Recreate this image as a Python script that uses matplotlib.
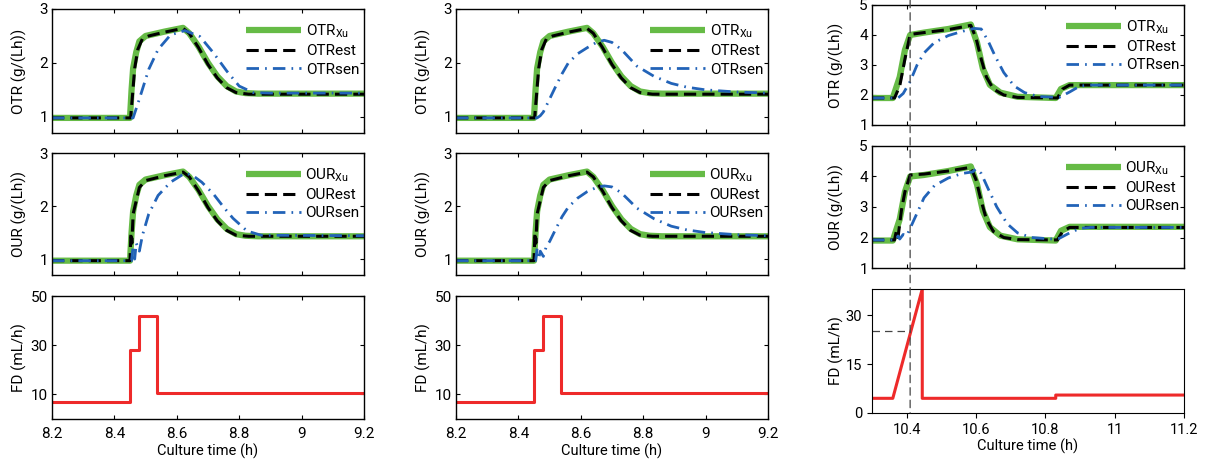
import numpy as np
import matplotlib
matplotlib.use("Agg")
import matplotlib.pyplot as plt
from matplotlib.patches import ConnectionPatch

plt.rcParams['font.family'] = ['Roboto', 'DejaVu Sans']
plt.rcParams['mathtext.fontset'] = 'custom'
plt.rcParams['mathtext.rm'] = 'Roboto'
plt.rcParams['font.size'] = 10.5

# ---- data ----
# columns 1 and 2 (8.2 - 9.2 h)
t_xu = [8.2, 8.45, 8.455, 8.46, 8.47, 8.48, 8.50, 8.56, 8.62, 8.64, 8.67, 8.70, 8.73, 8.76, 8.79, 8.82, 8.86, 9.2]
otr_xu = [0.98, 0.98, 1.5, 1.9, 2.2, 2.4, 2.5, 2.58, 2.65, 2.55, 2.3, 2.0, 1.75, 1.57, 1.47, 1.44, 1.43, 1.43]
our_xu = [0.97, 0.97, 1.5, 1.9, 2.2, 2.4, 2.5, 2.58, 2.65, 2.55, 2.3, 2.0, 1.75, 1.57, 1.47, 1.44, 1.43, 1.43]

t_est = [8.2, 8.452, 8.458, 8.465, 8.475, 8.49, 8.51, 8.56, 8.62, 8.64, 8.67, 8.70, 8.73, 8.76, 8.79, 8.83, 9.2]
otr_est = [0.98, 0.98, 1.4, 1.9, 2.25, 2.45, 2.5, 2.57, 2.64, 2.55, 2.28, 1.97, 1.72, 1.54, 1.45, 1.42, 1.42]
t_est_our = [8.2, 8.45, 8.453, 8.456, 8.46, 8.47, 8.48, 8.50, 8.56, 8.62, 8.64, 8.67, 8.70, 8.73, 8.76, 8.79, 8.83, 9.2]
our_est = [0.97, 0.97, 1.5, 1.3, 1.85, 2.1, 2.35, 2.48, 2.57, 2.64, 2.55, 2.28, 1.97, 1.72, 1.54, 1.45, 1.43, 1.43]

t_sen1 = [8.2, 8.46, 8.48, 8.51, 8.54, 8.58, 8.626, 8.674, 8.717, 8.76, 8.80, 8.845, 8.9, 9.2]
otr_sen1 = [0.98, 0.98, 1.33, 1.88, 2.25, 2.52, 2.6, 2.49, 2.19, 1.85, 1.57, 1.45, 1.44, 1.44]
t_sen1_our = [8.2, 8.455, 8.46, 8.465, 8.47, 8.48, 8.49, 8.51, 8.54, 8.58, 8.626, 8.65, 8.68, 8.717, 8.75, 8.78, 8.825, 8.87, 9.2]
our_sen1 = [0.97, 0.97, 1.25, 1.0, 1.3, 1.15, 1.45, 1.85, 2.2, 2.45, 2.62, 2.58, 2.45, 2.23, 1.98, 1.77, 1.53, 1.45, 1.44]

t_sen2 = [8.2, 8.46, 8.47, 8.48, 8.50, 8.52, 8.54, 8.56, 8.59, 8.62, 8.65, 8.675, 8.70, 8.73, 8.78, 8.835, 8.89, 8.94, 9.0, 9.1, 9.2]
otr_sen2 = [0.98, 0.98, 1.02, 1.09, 1.33, 1.57, 1.8, 2.0, 2.17, 2.28, 2.38, 2.42, 2.38, 2.25, 1.94, 1.75, 1.62, 1.55, 1.5, 1.46, 1.44]
t_sen2_our = [8.2, 8.455, 8.46, 8.465, 8.47, 8.48, 8.49, 8.50, 8.52, 8.54, 8.56, 8.59, 8.62, 8.65, 8.675, 8.70, 8.73, 8.78, 8.835, 8.89, 8.94, 9.0, 9.1, 9.2]
our_sen2 = [0.97, 0.97, 1.2, 1.0, 1.15, 1.05, 1.25, 1.33, 1.57, 1.8, 1.98, 2.15, 2.27, 2.35, 2.38, 2.36, 2.25, 1.96, 1.76, 1.62, 1.55, 1.5, 1.46, 1.44]

t_fd = [8.2, 8.45, 8.48, 8.535, 9.2]
fd = [7, 28, 42, 10.5, 10.5]

# column 3 (10.3 - 11.2 h)
t3_xu = [10.3, 10.36, 10.38, 10.395, 10.41, 10.45, 10.52, 10.585, 10.603, 10.62, 10.64, 10.67, 10.72, 10.83, 10.845, 10.87, 11.2]
otr3_xu = [1.9, 1.9, 2.6, 3.5, 4.0, 4.08, 4.2, 4.35, 3.74, 2.87, 2.34, 2.08, 1.94, 1.9, 2.2, 2.33, 2.33]
our3_xu = [1.9, 1.9, 2.6, 3.5, 4.0, 4.05, 4.18, 4.33, 3.74, 2.87, 2.34, 2.06, 1.94, 1.9, 2.22, 2.35, 2.35]

t3_est = [10.3, 10.365, 10.38, 10.395, 10.41, 10.45, 10.52, 10.585, 10.60, 10.615, 10.63, 10.65, 10.68, 10.72, 10.835, 10.85, 10.87, 11.2]
otr3_est = [1.9, 1.9, 2.3, 3.2, 4.02, 4.08, 4.18, 4.32, 3.9, 3.2, 2.6, 2.2, 2.0, 1.92, 1.9, 2.2, 2.33, 2.33]
t3_est_our = [10.3, 10.365, 10.37, 10.375, 10.385, 10.395, 10.41, 10.45, 10.52, 10.585, 10.60, 10.615, 10.63, 10.65, 10.68, 10.72, 10.835, 10.85, 10.87, 11.2]
our3_est = [1.92, 1.92, 2.2, 2.0, 2.9, 3.5, 4.05, 4.08, 4.18, 4.3, 3.9, 3.2, 2.6, 2.2, 2.0, 1.93, 1.92, 2.2, 2.33, 2.33]

t3_sen = [10.3, 10.375, 10.39, 10.41, 10.43, 10.45, 10.48, 10.52, 10.56, 10.595, 10.615, 10.635, 10.655, 10.68, 10.71, 10.74, 10.78, 10.84, 10.87, 10.90, 10.93, 11.2]
otr3_sen = [1.9, 1.9, 2.05, 2.45, 3.0, 3.4, 3.75, 3.98, 4.12, 4.22, 4.2, 3.8, 3.3, 2.75, 2.3, 2.08, 1.95, 1.92, 2.1, 2.3, 2.33, 2.33]
t3_sen_our = [10.3, 10.37, 10.375, 10.38, 10.39, 10.40, 10.41, 10.43, 10.45, 10.48, 10.52, 10.56, 10.59, 10.60, 10.615, 10.635, 10.66, 10.69, 10.72, 10.76, 10.82, 10.84, 10.87, 10.90, 10.93, 11.2]
our3_sen = [1.92, 1.92, 2.05, 1.95, 2.1, 2.05, 2.3, 2.8, 3.3, 3.7, 3.95, 4.1, 4.15, 4.25, 4.1, 3.6, 3.0, 2.45, 2.15, 2.0, 1.95, 1.97, 2.15, 2.3, 2.33, 2.33]

t3_fd = [10.3, 10.36, 10.445, 10.445, 10.83, 10.83, 11.2]
fd3 = [4.5, 4.5, 38, 4.5, 4.5, 5.5, 5.5]

t_mark = 10.41
fd_mark = 25

green = '#66bb46'
blue = '#2263b8'
red = '#ee2a2a'

fig = plt.figure(figsize=(12.12, 4.66), dpi=100)
W, H = 1212., 466.


def px_axes(l, r, top, bot):
    return fig.add_axes([l / W, 1 - bot / H, (r - l) / W, (bot - top) / H])


def style(ax):
    ax.tick_params(direction='in', top=True, right=True, length=3, width=0.8, labelsize=11)
    ax.tick_params(axis='x', pad=6)
    ax.tick_params(axis='y', pad=3)
    for s in ax.spines.values():
        s.set_linewidth(1.0)


def rate_panel(ax, name, xu, est, sen, ylim, yticks, xlim, xticks):
    ax.plot(xu[0], xu[1], color=green, lw=4.5, solid_capstyle='butt', label=name + r'$_{\mathrm{Xu}}$')
    ax.plot(est[0], est[1], color='black', lw=2.2, dashes=(4, 2), label=name + 'est')
    ax.plot(sen[0], sen[1], color=blue, lw=2.0, dashes=(4.5, 2.2, 0.6, 2.2), label=name + 'sen')
    ax.set_xlim(xlim)
    ax.set_ylim(ylim)
    ax.set_xticks(xticks)
    ax.set_yticks(yticks)
    ax.set_xticklabels([])
    ax.set_ylabel(name + ' (g/(Lh))', fontsize=11)
    ax.legend(loc='upper right', bbox_to_anchor=(1.0, 0.93), frameon=False, handlelength=3.6,
              handletextpad=0.3, labelspacing=0.28, borderaxespad=0.1, borderpad=0.2, fontsize=11)
    style(ax)


xt12 = [8.2, 8.4, 8.6, 8.8, 9.0, 9.2]
xl12 = ['8.2', '8.4', '8.6', '8.8', '9', '9.2']
xt3 = [10.4, 10.6, 10.8, 11.0, 11.2]
xl3 = ['10.4', '10.6', '10.8', '11', '11.2']

cols = [(52, 364, (t_sen1, otr_sen1), (t_sen1_our, our_sen1)),
        (456, 768, (t_sen2, otr_sen2), (t_sen2_our, our_sen2))]
for l, r, sen_otr, sen_our in cols:
    a1 = px_axes(l, r, 9, 133)
    rate_panel(a1, 'OTR', (t_xu, otr_xu), (t_est, otr_est), sen_otr, (0.7, 3), [1, 2, 3], (8.2, 9.2), xt12)
    a2 = px_axes(l, r, 153, 275)
    rate_panel(a2, 'OUR', (t_xu, our_xu), (t_est_our, our_est), sen_our, (0.7, 3), [1, 2, 3], (8.2, 9.2), xt12)
    a3 = px_axes(l, r, 296, 419)
    a3.plot(t_fd, fd, color=red, lw=2.2, drawstyle='steps-post')
    a3.set_xlim(8.2, 9.2)
    a3.set_ylim(0, 50)
    a3.set_yticks([10, 30, 50])
    a3.set_xticks(xt12)
    a3.set_xticklabels(xl12)
    a3.set_ylabel('FD (mL/h)', fontsize=11)
    a3.set_xlabel('Culture time (h)', labelpad=2, fontsize=10.5)
    style(a3)
    for a in (a1, a2, a3):
        a.yaxis.set_label_coords(-0.08, 0.5)

# column 3
b1 = px_axes(872, 1184, 5, 125)
rate_panel(b1, 'OTR', (t3_xu, otr3_xu), (t3_est, otr3_est), (t3_sen, otr3_sen), (1, 5), [1, 2, 3, 4, 5], (10.3, 11.2), xt3)
b2 = px_axes(872, 1184, 146, 268)
rate_panel(b2, 'OUR', (t3_xu, our3_xu), (t3_est_our, our3_est), (t3_sen_our, our3_sen), (1, 5), [1, 2, 3, 4, 5], (10.3, 11.2), xt3)
b3 = px_axes(872, 1184, 289, 413)
b3.plot(t3_fd, fd3, color=red, lw=2.2)
b3.plot([10.3, t_mark], [fd_mark, fd_mark], color='#444444', lw=0.9, dashes=(6, 4))
b3.set_xlim(10.3, 11.2)
b3.set_ylim(0, 38)
b3.set_yticks([0, 15, 30])
b3.set_xticks(xt3)
b3.set_xticklabels(xl3)
b3.set_ylabel('FD (mL/h)', fontsize=11)
b3.set_xlabel('Culture time (h)', labelpad=1, fontsize=10.5)
b3.tick_params(axis='x', pad=4)
for a in (b1, b2, b3):
    a.yaxis.set_label_coords(-0.09, 0.5)

# vertical dashed marker through the whole third column
con = ConnectionPatch(xyA=(t_mark, 1.04), coordsA=b1.get_xaxis_transform(),
                      xyB=(t_mark, 0.0), coordsB=b3.get_xaxis_transform(),
                      color='#444444', lw=0.9, linestyle=(0, (6, 4)))
fig.add_artist(con)

fig.savefig('out.png', dpi=100)
